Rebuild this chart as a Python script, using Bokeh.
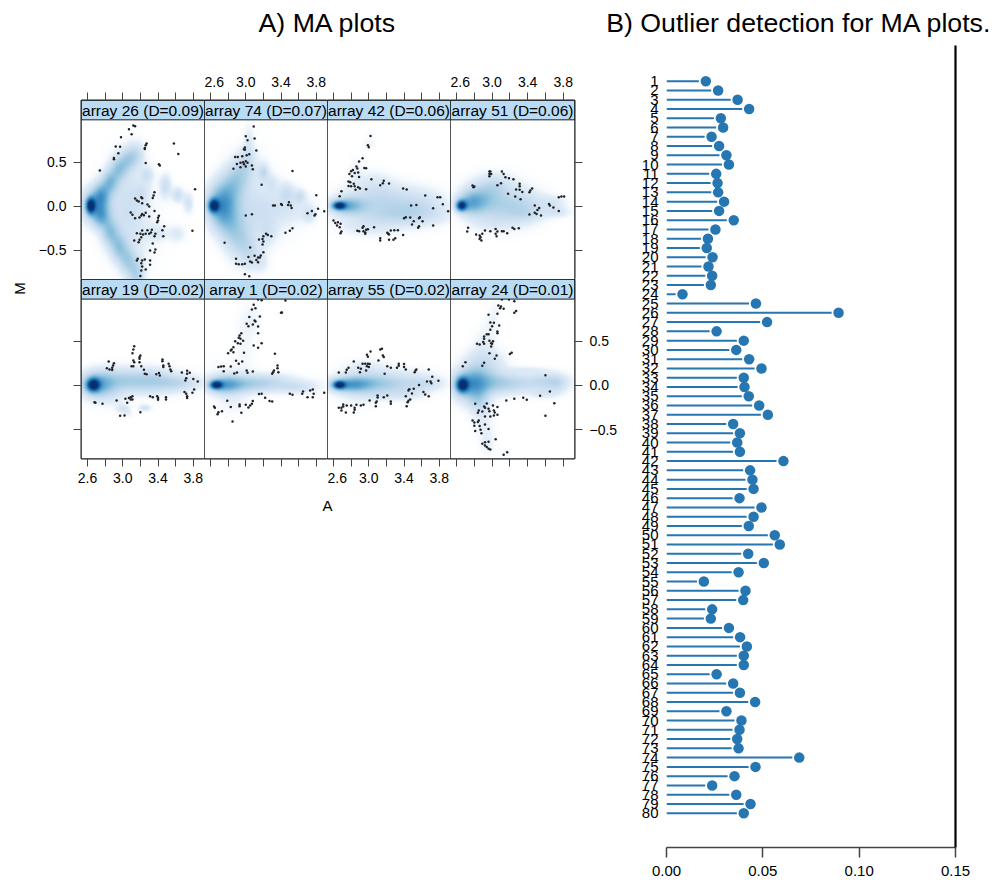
import math
import numpy as np
from bokeh.core.properties import value
from bokeh.embed import file_html
from bokeh.layouts import column, row
from bokeh.models import (ColumnDataSource, CustomJSTickFormatter, FixedTicker,
                          LinearAxis, LinearColorMapper, Range1d)
from bokeh.palettes import Blues256
from bokeh.plotting import figure
from bokeh.resources import INLINE

TITLE_A = "A) MA plots"
TITLE_B = "B) Outlier detection for MA plots."
XLAB = "A"
YLAB = "M"
STRIPS = ["array 26 (D=0.09)", "array 74 (D=0.07)", "array 42 (D=0.06)", "array 51 (D=0.06)",
          "array 19 (D=0.02)", "array 1 (D=0.02)", "array 55 (D=0.02)", "array 24 (D=0.01)"]

# Outlier statistic D for arrays 1..80
ARRAY_IDS = list(range(1, 81))
D_VALUES = [.0204, .0268, .0369, .0429, .0282, .0294, .0234, .0273, .0311, .0324,
            .0258, .0265, .0268, .0299, .0273, .0349, .0254, .0215, .0209, .0239,
            .0218, .0237, .0230, .0083, .0464, .0893, .0522, .0260, .0401, .0362,
            .0429, .0493, .0401, .0405, .0427, .0481, .0526, .0346, .0381, .0367,
            .0381, .0607, .0434, .0446, .0452, .0379, .0493, .0452, .0427, .0562,
            .0588, .0424, .0505, .0374, .0194, .0410, .0398, .0237, .0230, .0324,
            .0382, .0417, .0401, .0401, .0260, .0346, .0381, .0460, .0311, .0389,
            .0379, .0367, .0374, .0689, .0462, .0353, .0237, .0362, .0436, .0401]
D_TICKS = [0.0, 0.05, 0.10, 0.15]
A_LABEL_TICKS = [2.6, 3.0, 3.4, 3.8]
A_MINOR_TICKS = [2.8, 3.2, 3.6]
M_TICKS = [-0.5, 0.0, 0.5]

# Sparse points (A, M) per panel
PTS_26 = [(3.12,.913),(3.14,.906),(3.07,.872),(3.10,.815),(2.98,.781),(2.92,.675),(2.97,.672),(2.90,.547),(2.90,.532),(2.95,.60),
          (3.27,.709),(3.26,.69),(3.25,.66),(3.25,.649),(3.58,.709),(3.63,.592),(3.26,.49),(3.41,.475),(3.42,.46),(2.74,.404),
          (3.82,.192),(3.36,.158),(3.35,.121),(3.34,.094),(3.14,.087),(3.21,.102),(3.22,.09),(3.16,.064),(3.18,.053),(3.22,.034),
          (3.28,.019),(3.30,-.004),(3.36,-.053),(3.09,-.072),(3.11,-.098),(3.14,-.136),(3.19,-.128),(3.22,-.087),(3.26,-.075),(3.21,-.106),
          (3.24,-.102),(3.30,-.117),(3.41,-.109),(3.40,-.132),(3.40,-.162),(3.39,-.181),(3.47,-.226),(3.45,-.272),(3.46,-.34),(3.22,-.275),
          (3.28,-.272),(3.33,-.268),(3.32,-.298),(3.30,-.313),(3.16,-.306),(3.20,-.313),(3.23,-.321),(3.26,-.313),(3.21,-.351),(3.19,-.381),
          (3.18,-.408),(3.13,-.389),(3.37,-.313),(3.36,-.34),(3.34,-.423),(3.31,-.502),(3.37,-.491),(3.36,-.525),(3.16,-.615),(3.17,-.596),
          (3.22,-.615),(3.25,-.604),(3.31,-.615),(3.31,-.664),(3.21,-.645),(3.22,-.683),(3.26,-.717),(3.21,-.728),(3.20,-.789),(3.79,-.279)]
PTS_74 = [(3.09,.902),(3.00,.792),(3.02,.747),(3.10,.766),(2.99,.664),(2.98,.645),(2.99,.638),(3.12,.63),(3.04,.589),(3.01,.577),
          (2.96,.566),(2.91,.558),(2.88,.558),(3.00,.509),(2.97,.498),(3.02,.491),(2.94,.491),(2.90,.479),(2.98,.475),(3.07,.46),
          (2.94,.442),(3.00,.449),(2.86,.423),(3.08,.419),(3.53,.40),(3.18,.242),(3.80,.125),(3.31,.008),(3.33,.008),(3.40,.026),
          (3.41,.015),(3.49,.045),(3.48,.015),(3.51,.008),(3.52,-.019),(3.82,-.03),(3.75,-.053),(3.70,-.079),(3.79,-.091),(3.78,-.106),
          (3.89,-.057),(3.00,-.106),(3.07,-.091),(3.53,-.249),(3.50,-.279),(3.45,-.302),(3.23,-.313),(3.25,-.325),(3.29,-.34),(3.20,-.34),
          (3.19,-.37),(3.15,-.377),(3.20,-.40),(3.19,-.434),(2.76,-.415),(3.05,-.468),(3.20,-.521),(3.17,-.558),(3.10,-.562),(3.03,-.574),
          (3.14,-.581),(3.16,-.581),(3.12,-.608),(2.89,-.596),(3.05,-.626),(3.07,-.638),(2.89,-.653),(2.92,-.657),(2.96,-.657),(2.99,-.653),
          (3.14,-.634),(2.99,-.77),(3.04,-.792)]
PTS_42 = [(3.02,.796),(2.99,.69),(3.00,.668),(2.93,.543),(2.89,.506),(2.86,.449),(2.95,.434),(2.97,.43),(2.87,.426),(2.82,.411),
          (2.80,.396),(2.78,.366),(2.84,.377),(2.88,.381),(2.81,.34),(2.89,.332),(3.03,.306),(2.77,.279),(2.79,.272),(2.83,.253),
          (2.77,.23),(2.80,.226),(2.84,.226),(2.88,.215),(2.85,.185),(2.90,.20),(2.97,.192),(2.69,.17),(2.67,.113),(3.17,.287),
          (3.16,.26),(3.13,.238),(3.23,.257),(3.39,.20),(3.43,.189),(3.64,.121),(3.78,.102),(3.81,.102),(3.84,.023),(3.48,.008),
          (3.54,.015),(3.73,-.023),(3.90,-.057),(3.40,-.136),(3.42,-.125),(3.47,-.128),(3.57,-.136),(3.58,-.125),(3.51,-.17),(3.61,-.17),
          (3.49,-.208),(3.57,-.226),(3.56,-.245),(3.73,-.219),(2.60,-.162),(2.65,-.181),(2.62,-.189),(2.68,-.20),(2.64,-.219),(2.67,-.238),
          (2.69,-.287),(2.68,-.306),(2.87,-.279),(2.89,-.283),(2.93,-.245),(2.94,-.226),(2.94,-.283),(2.96,-.313),(2.97,-.268),(2.99,-.26),
          (2.96,-.298),(3.06,-.238),(3.13,-.362),(3.13,-.389),(3.23,-.321),(3.22,-.313),(3.25,-.275),(3.21,-.302),(3.29,-.272),(3.33,-.272),
          (3.39,-.325),(3.23,-.381),(3.28,-.381),(3.30,-.362)]
PTS_51 = [(2.97,.392),(2.98,.392),(2.97,.366),(2.99,.366),(2.97,.34),(3.11,.392),(3.13,.366),(3.15,.328),(3.19,.317),(3.24,.306),
          (3.10,.26),(3.06,.238),(2.78,.234),(2.80,.223),(2.79,.215),(3.31,.253),(3.31,.226),(3.27,.189),(3.31,.185),(3.34,.162),
          (3.18,.14),(3.45,.20),(3.43,.177),(3.42,.158),(3.26,.109),(3.32,.079),(3.75,.102),(3.78,.109),(3.81,.109),(3.64,.026),
          (3.65,.008),(3.69,-.015),(3.75,-.053),(3.48,.008),(3.53,-.019),(3.51,-.042),(3.48,-.075),(3.50,-.087),(3.55,-.106),(3.42,-.094),
          (2.73,-.245),(2.72,-.287),(2.82,-.321),(2.86,-.332),(2.89,-.313),(2.87,-.351),(2.86,-.37),(2.88,-.389),(2.92,-.275),(2.98,-.283),
          (3.04,-.257),(3.06,-.287),(3.04,-.313),(3.05,-.34),(3.11,-.283),(3.13,-.283),(3.17,-.306),(3.23,-.245),(3.25,-.257),(3.30,-.249)]
PTS_19 = [(3.13,.445),(3.12,.408),(3.11,.366),(3.20,.34),(3.19,.321),(3.19,.302),(3.12,.283),(3.13,.264),(3.19,.264),(3.21,.219),
          (3.10,.219),(3.12,.219),(3.24,.177),(3.25,.132),(3.27,.128),(2.84,.272),(2.90,.253),(2.89,.226),(2.88,.20),(2.82,.196),
          (2.85,.181),(2.88,.174),(3.45,.294),(3.45,.275),(3.46,.226),(3.46,.208),(3.52,.245),(3.53,.219),(3.54,.181),(3.55,.162),
          (3.38,.128),(3.41,.14),(3.42,.113),(3.67,.147),(3.73,.166),(3.76,.143),(3.73,.132),(3.72,.083),(3.71,.057),(3.80,.072),
          (3.85,.045),(3.81,-.045),(3.79,-.083),(3.70,-.075),(3.72,-.094),(3.73,-.121),(3.73,-.143),(3.31,-.121),(3.34,-.132),(3.39,-.121),
          (3.40,-.143),(3.40,-.162),(3.49,-.132),(3.49,-.158),(2.68,-.189),(2.69,-.196),(2.77,-.208),(2.93,-.17),(3.03,-.151),(3.07,-.143),
          (3.09,-.132),(3.11,-.121),(3.11,-.158),(3.09,-.158),(3.05,-.196),(3.20,-.302),(2.97,-.343),(3.02,-.34)]
PTS_1 = [(3.14,.974),(3.18,.966),(3.45,.962),(3.07,.86),(3.11,.875),(3.09,.913),(3.40,.823),(3.41,.826),(3.04,.774),(3.16,.781),
         (3.10,.736),(3.11,.725),(3.01,.698),(3.03,.672),(3.08,.691),(3.14,.668),(3.14,.592),(2.95,.592),(2.93,.566),(2.92,.54),
         (2.94,.528),(2.97,.506),(2.94,.472),(2.91,.479),(2.88,.502),(2.86,.434),(2.84,.408),(2.83,.396),(2.86,.377),(2.80,.366),
         (3.09,.453),(3.14,.426),(3.18,.479),(3.33,.358),(2.98,.37),(2.89,.279),(2.92,.245),(2.96,.272),(2.69,.208),(2.72,.215),
         (2.75,.219),(2.83,.215),(2.75,.162),(3.36,.226),(3.36,.196),(3.32,.17),(3.30,.132),(3.31,.151),(3.37,.151),(2.87,.136),
         (2.90,.147),(3.01,.17),(3.02,.143),(3.08,.158),(3.65,-.068),(3.64,-.094),(3.70,-.132),(3.73,-.057),(3.76,-.045),(3.77,-.094),
         (3.76,-.132),(3.89,-.083),(3.50,-.094),(3.53,-.106),(3.15,-.098),(3.18,-.094),(3.22,-.14),(3.27,-.177),(3.30,-.181),(2.79,-.174),
         (3.08,-.177),(3.07,-.208),(3.05,-.226),(3.03,-.249),(3.00,-.219),(2.93,-.215),(2.93,-.234),(2.83,-.245),(2.64,-.238),(2.65,-.253),
         (2.73,-.291),(2.69,-.302),(2.68,-.325),(2.95,-.309),(2.85,-.408)]
PTS_55 = [(3.13,.408),(3.15,.415),(3.02,.385),(2.98,.347),(2.99,.325),(3.16,.34),(3.17,.321),(3.11,.283),(2.83,.272),(2.77,.20),
          (2.75,.177),(2.74,.147),(2.66,.147),(2.93,.245),(2.96,.245),(2.99,.245),(3.01,.242),(2.98,.219),(2.88,.20),(2.91,.189),
          (2.90,.151),(2.97,.17),(3.00,.208),(3.21,.219),(3.25,.20),(3.18,.132),(3.32,.20),(3.34,.245),(3.34,.223),(3.40,.242),
          (3.40,.208),(3.42,.181),(3.52,.151),(3.53,.17),(3.54,.181),(3.68,.181),(3.72,.098),(3.66,.045),(3.70,.045),(3.71,.026),
          (3.79,.053),(3.57,.004),(3.51,-.038),(3.46,-.042),(3.45,-.057),(3.49,-.091),(3.62,-.075),(3.64,-.102),(3.68,-.121),(3.42,-.121),
          (3.47,-.158),(3.44,-.189),(3.45,-.174),(3.43,-.234),(3.10,-.113),(3.10,-.136),(3.17,-.132),(3.21,-.113),(3.01,-.17),(3.09,-.181),
          (3.08,-.196),(3.08,-.234),(3.25,-.181),(3.25,-.208),(2.71,-.215),(2.71,-.238),(2.66,-.253),(2.69,-.253),(2.69,-.283),(2.74,-.306),
          (2.75,-.226),(2.80,-.226),(2.86,-.219),(2.84,-.253),(2.84,-.275),(2.83,-.306),(2.91,-.226),(2.94,-.219)]
PTS_24 = [(3.11,.974),(3.19,.974),(3.25,.955),(3.07,.906),(3.10,.894),(3.09,.875),(3.13,.868),(3.27,.842),(3.25,.823),(2.96,.80),
          (3.06,.811),(2.98,.713),(3.02,.709),(3.00,.672),(3.08,.679),(2.98,.63),(3.06,.611),(3.06,.592),(2.94,.581),(2.96,.581),
          (2.91,.555),(2.91,.528),(2.90,.491),(2.91,.472),(2.83,.472),(2.86,.464),(2.97,.506),(3.01,.502),(2.99,.479),(2.99,.442),
          (3.00,.472),(2.97,.366),(3.05,.34),(3.03,.302),(3.22,.37),(3.20,.355),(2.70,.264),(2.67,.219),(2.91,.257),(2.89,.223),
          (3.60,.117),(3.65,-.068),(3.70,-.20),(3.54,-.117),(3.39,-.162),(3.35,-.14),(3.25,-.151),(3.16,-.17),(3.60,-.343),(2.81,-.208),
          (2.91,-.238),(2.94,-.204),(3.01,-.226),(3.06,-.245),(2.92,-.253),(2.85,-.283),(2.84,-.309),(2.89,-.294),(2.96,-.264),(2.97,-.291),
          (3.02,-.283),(3.03,-.306),(3.06,-.332),(2.92,-.351),(2.98,-.351),(3.02,-.34),(2.78,-.396),(2.80,-.419),(2.85,-.396),(2.84,-.415),
          (2.92,-.442),(2.80,-.457),(2.86,-.46),(2.96,-.494),(2.81,-.517),(2.87,-.502),(2.88,-.54),(3.04,-.608),(2.89,-.66),(2.92,-.642),
          (2.96,-.638),(2.92,-.679),(2.94,-.698),(2.96,-.717),(2.98,-.725),(3.17,-.755),(3.13,-.785)]
POINTS = [PTS_26, PTS_74, PTS_42, PTS_51, PTS_19, PTS_1, PTS_55, PTS_24]

# Smoothed density read as blobs: (A, M, spread A, spread M, strength)
DENS_26 = [(2.63,0,.035,.06,.85),(2.68,0,.08,.10,.35),(2.75,.12,.05,.07,.33),(2.85,.27,.05,.07,.3),(2.95,.42,.05,.07,.25),
           (3.05,.52,.05,.07,.2),(3.15,.58,.05,.07,.15),(2.75,-.12,.05,.07,.3),(2.85,-.3,.05,.08,.27),(2.95,-.47,.05,.08,.25),
           (3.05,-.62,.05,.08,.22),(3.15,-.78,.05,.09,.22),(2.95,0,.12,.25,.08),(3.1,.1,.1,.3,.06),(3.15,-.25,.15,.25,.06),
           (3.28,.35,.04,.05,.13),(3.49,.22,.035,.07,.16),(3.63,.12,.035,.045,.16),(3.75,.03,.03,.06,.13),(3.62,-.32,.05,.05,.09),
           (3.4,-.31,.06,.05,.08),(3.22,.15,.05,.06,.08)]
DENS_74 = [(2.63,0,.04,.05,.85),(2.7,0,.08,.12,.4),(2.8,.15,.08,.12,.2),(2.9,.32,.07,.1,.17),(3.0,.48,.06,.09,.12),
           (3.03,.7,.03,.12,.08),(2.8,-.18,.08,.12,.2),(2.92,-.38,.08,.12,.17),(3.05,-.55,.07,.1,.12),(3.18,-.65,.05,.06,.06),
           (3.05,.05,.15,.25,.1),(3.25,-.1,.2,.15,.07),(3.2,.38,.035,.05,.16),(3.47,.15,.05,.06,.13),(3.62,.11,.035,.04,.13),
           (3.3,.25,.04,.05,.08),(3.72,-.1,.04,.05,.1),(3.5,-.02,.15,.08,.07),(3.25,-.3,.05,.08,.08)]
DENS_42 = [(2.66,0,.05,.03,.85),(2.75,0,.1,.05,.35),(3.1,.1,.2,.1,.13),(3.3,0,.3,.1,.1),(3.15,-.15,.25,.07,.09),
           (3.6,.0,.15,.1,.08),(3.5,-.1,.25,.06,.07),(3.05,.28,.1,.07,.05),(3.0,.7,.04,.03,.05),(3.02,.8,.03,.02,.03),
           (2.85,.4,.04,.08,.05),(2.85,-.25,.12,.05,.04),(3.1,-.3,.12,.04,.03)]
DENS_51 = [(2.65,0,.04,.04,.85),(2.75,.03,.08,.07,.35),(2.9,.1,.1,.1,.18),(3.1,.05,.18,.13,.16),(3.05,.25,.08,.06,.08),
           (3.25,-.05,.15,.1,.1),(3.45,0,.12,.08,.08),(3.7,.02,.08,.05,.09),(3.75,-.08,.08,.03,.08),(3.4,-.1,.1,.04,.05),
           (2.95,-.2,.12,.05,.05)]
DENS_19 = [(2.66,0,.05,.05,.85),(2.72,0,.1,.08,.35),(3.0,.03,.25,.07,.15),(3.4,.03,.25,.07,.13),(3.65,.02,.12,.04,.1),
           (3.0,.1,.12,.07,.07),(3.35,.08,.12,.07,.07),(3.0,-.27,.04,.025,.13),(3.25,-.26,.04,.02,.14),(2.9,-.18,.08,.05,.04),
           (3.05,-.33,.03,.02,.05)]
DENS_1 = [(2.66,0,.045,.03,.85),(2.75,0,.1,.05,.35),(3.0,.02,.18,.05,.18),(3.35,.0,.25,.05,.12),(3.6,-.03,.1,.03,.08),
          (3.3,.08,.12,.04,.05),(2.8,.05,.15,.12,.05),(2.98,.55,.06,.2,.04),(3.08,.75,.05,.1,.04),(3.4,.82,.03,.015,.04),
          (2.85,-.2,.1,.08,.04)]
DENS_55 = [(2.66,0,.045,.03,.85),(2.78,0,.12,.045,.4),(3.05,.02,.2,.05,.2),(3.35,.0,.25,.05,.1),(3.65,.02,.1,.04,.1),
           (2.95,.13,.15,.06,.08),(3.4,.12,.2,.05,.06),(3.1,-.11,.18,.04,.1),(3.45,-.1,.12,.04,.07),(2.95,.22,.12,.05,.04),
           (2.85,-.2,.12,.05,.03)]
DENS_24 = [(2.66,0,.045,.055,.85),(2.75,0,.1,.1,.35),(2.95,.02,.18,.07,.2),(3.35,.02,.25,.06,.15),(3.65,.05,.1,.05,.12),
           (3.75,.0,.05,.05,.08),(3.6,-.1,.08,.03,.08),(3.4,.17,.12,.02,.06),(2.85,.2,.1,.12,.12),(3.0,.25,.1,.08,.08),
           (2.92,.5,.06,.1,.05),(3.0,.72,.04,.08,.05),(3.05,.88,.03,.05,.03),(2.85,-.18,.06,.08,.15),(2.9,-.4,.06,.1,.06),
           (2.95,-.65,.05,.08,.06),(3.15,-.78,.04,.03,.03),(3.25,.85,.03,.03,.03),(3.6,-.34,.03,.015,.03)]
DENSITY = [DENS_26, DENS_74, DENS_42, DENS_51, DENS_19, DENS_1, DENS_55, DENS_24]

FONT = "Liberation Sans"
STRIP_FILL = "#B9DBF4"
FRAME = "#1a1a1a"
TICK = "#444444"
LOLLI = "#2676B2"
SMOOTH_WIDEN = 1.3
SMOOTH_GAMMA = 0.85


def _hex(c):
    return "#%02x%02x%02x" % tuple(int(round(v)) for v in c)


# Blues ramp that starts from pure white
_base = list(reversed(Blues256))
PALETTE = []
for k, col in enumerate(_base):
    rgb = np.array([int(col[j:j + 2], 16) for j in (1, 3, 5)], dtype=float)
    t = min(k / 25.0, 1.0)
    PALETTE.append(_hex(255 + (rgb - 255) * t))

MINUS = "return tick.toFixed(1).replace('-', '\\u2212')"
EMPTY = "return ''"

A_RANGE = (2.532, 3.927)
M_RANGES = [(-0.83, 1.197), (-0.827, 1.2)]
STRIP_BOTTOM = 0.978


def bare(width, height, xr, yr):
    f = figure(width=width, height=height, x_range=xr, y_range=yr, x_axis_type=None, y_axis_type=None,
               toolbar_location=None, output_backend="svg", min_border=0, outline_line_color=None)
    f.grid.visible = False
    return f


def style_labels(ax, size="14px"):
    ax.major_label_text_font = FONT
    ax.major_label_text_font_size = size
    ax.major_label_text_color = "black"


def a_axis(show):
    ax = LinearAxis(ticker=FixedTicker(ticks=A_LABEL_TICKS, minor_ticks=A_MINOR_TICKS),
                    formatter=CustomJSTickFormatter(code=MINUS if show else EMPTY))
    ax.major_tick_in = ax.minor_tick_in = 0
    ax.major_tick_out = ax.minor_tick_out = 8
    ax.major_tick_line_color = ax.minor_tick_line_color = TICK
    ax.axis_line_color = None
    ax.major_label_standoff = 6
    style_labels(ax)
    return ax


def m_axis(show):
    ax = LinearAxis(ticker=FixedTicker(ticks=M_TICKS, minor_ticks=[]),
                    formatter=CustomJSTickFormatter(code=MINUS if show else EMPTY))
    ax.major_tick_in = 0
    ax.major_tick_out = 8
    ax.major_tick_line_color = TICK
    ax.axis_line_color = None
    ax.major_label_standoff = 7
    style_labels(ax)
    return ax


def panel(i):
    r, c = i // 4, i % 4
    frame_w = 124 if c == 3 else 123
    left = 46 if c == 0 else 0
    right = 46 if c == 3 else 0
    top = 56 if r == 0 else 0
    bottom = 32 if r == 1 else 0
    y0, y1 = M_RANGES[r]
    p = figure(width=left + frame_w + right, height=top + 179 + bottom,
               x_range=Range1d(*A_RANGE), y_range=Range1d(y0, y1),
               x_axis_location=None, y_axis_location=None, toolbar_location=None, output_backend="svg",
               min_border_left=left, min_border_right=right, min_border_top=top, min_border_bottom=bottom,
               outline_line_color=FRAME, outline_line_width=2)
    p.grid.visible = False

    # density image, summed from the blobs read for this panel; the dense core keeps its own spread
    nx, ny = 124, 160
    xs = np.linspace(A_RANGE[0], A_RANGE[1], nx)
    ys = np.linspace(y0, STRIP_BOTTOM, ny)
    X, Y = np.meshgrid(xs, ys)
    Z = np.zeros_like(X)
    for a, m, sa, sm, w in DENSITY[i]:
        widen = 1.0 if w > 0.8 else SMOOTH_WIDEN
        Z += w * np.exp(-0.5 * (((X - a) / (sa * widen)) ** 2 + ((Y - m) / (sm * widen)) ** 2))
    Z = np.clip(Z, 0, 1) ** SMOOTH_GAMMA
    mapper = LinearColorMapper(palette=PALETTE, low=0, high=1)
    p.image(image=[Z], x=A_RANGE[0], y=y0, dw=A_RANGE[1] - A_RANGE[0], dh=STRIP_BOTTOM - y0, color_mapper=mapper)

    pts = [q for q in POINTS[i] if q[1] < STRIP_BOTTOM]
    p.scatter([q[0] for q in pts], [q[1] for q in pts], size=2.5, color="#222222", line_color=None)

    p.quad(left=[A_RANGE[0]], right=[A_RANGE[1]], bottom=[STRIP_BOTTOM], top=[y1],
           fill_color=STRIP_FILL, line_color=FRAME, line_width=1)
    p.text(x=[(A_RANGE[0] + A_RANGE[1]) / 2], y=[(STRIP_BOTTOM + y1) / 2], text=[STRIPS[i]],
           text_font=value(FONT), text_font_size="15.5px", text_align="center", text_baseline="middle",
           text_color="black")

    if r == 0:
        p.add_layout(a_axis(c % 2 == 1), "above")
    else:
        p.add_layout(a_axis(c % 2 == 0), "below")
    if c == 0:
        p.add_layout(m_axis(r == 0), "left")
    if c == 3:
        p.add_layout(m_axis(r == 1), "right")
    return p


# header
head = bare(992, 44, Range1d(0, 992), Range1d(44, 0))
head.text(x=[327, 798.5], y=[22, 22], text=[TITLE_A, TITLE_B], text_font=value(FONT), text_font_size="26.7px",
          text_align="center", text_baseline="middle", text_color="black")

# rotated M label
mstrip = bare(35, 476, Range1d(0, 35), Range1d(520, 44))
mstrip.text(x=[18.5], y=[288], text=[YLAB], text_font=value(FONT), text_font_size="15px", angle=math.pi / 2,
            text_align="center", text_baseline="middle", text_color="black")

# A label
xstrip = bare(585, 30, Range1d(35, 620), Range1d(520, 490))
xstrip.text(x=[327], y=[505], text=[XLAB], text_font=value(FONT), text_font_size="15px",
            text_align="center", text_baseline="middle", text_color="black")

panels = [panel(i) for i in range(8)]
left_block = row(mstrip, column(row(*panels[:4]), row(*panels[4:]), xstrip))

# lollipop chart
GAP = 0.0036
src = ColumnDataSource(dict(y=ARRAY_IDS, d=D_VALUES, zero=[0.0] * len(D_VALUES), end=[v - GAP for v in D_VALUES]))
q = figure(width=372, height=844, x_range=Range1d(0, 0.15), y_range=Range1d(83.7, -2.85),
           x_axis_location=None, y_axis_location=None, toolbar_location=None, output_backend="svg",
           min_border_left=46, min_border_right=37, min_border_top=1, min_border_bottom=41,
           outline_line_color=None)
q.grid.visible = False
q.segment(x0="zero", x1="end", y0="y", y1="y", source=src, line_color=LOLLI, line_width=2)
q.scatter(x="d", y="y", source=src, size=10.5, color=LOLLI, line_color=None)

xax = LinearAxis(ticker=FixedTicker(ticks=D_TICKS, minor_ticks=[]),
                 formatter=CustomJSTickFormatter(code="return tick.toFixed(2)"))
xax.axis_line_color = TICK
xax.axis_line_width = 1.5
xax.major_tick_in = 0
xax.major_tick_out = 10
xax.major_tick_line_color = TICK
xax.major_tick_line_width = 1.5
xax.major_label_standoff = 8
style_labels(xax, "15px")
q.add_layout(xax, "below")

yax = LinearAxis(ticker=FixedTicker(ticks=ARRAY_IDS, minor_ticks=[]),
                 formatter=CustomJSTickFormatter(code="return tick.toFixed(0)"))
yax.axis_line_color = None
yax.major_tick_line_color = None
yax.major_tick_in = 0
yax.major_tick_out = 0
yax.major_label_standoff = 8
style_labels(yax, "15px")
q.add_layout(yax, "left")

# the right-hand border is drawn from a right axis of its own
rax = LinearAxis(ticker=FixedTicker(ticks=[], minor_ticks=[]))
rax.axis_line_color = "black"
rax.axis_line_width = 2.2
rax.major_tick_line_color = None
rax.minor_tick_line_color = None
rax.major_label_text_font_size = "12px"
q.add_layout(rax, "right")

page = column(head, row(left_block, q))
open("out.html", "w").write(file_html(page, INLINE))
